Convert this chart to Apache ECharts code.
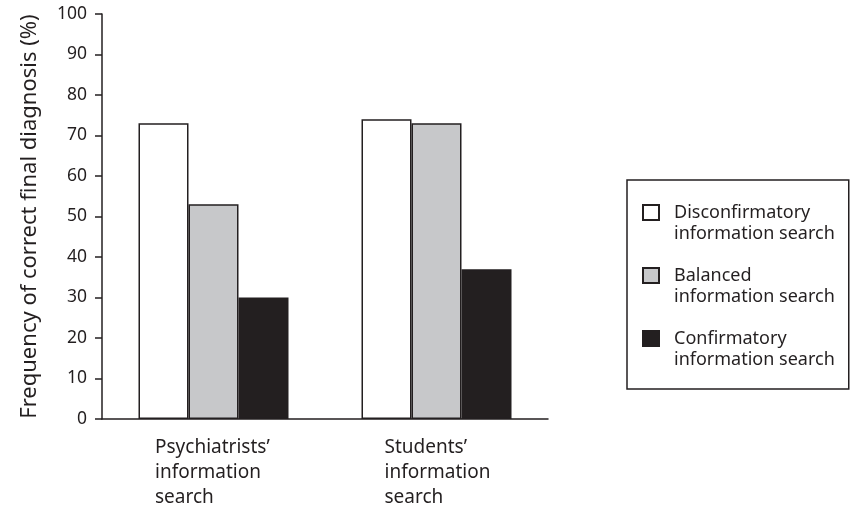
<!DOCTYPE html>
<html>
<head>
<meta charset="utf-8">
<style>
  html, body { margin: 0; padding: 0; background: #fff; }
  #chart { width: 851px; height: 510px; }
</style>
<script src="https://cdn.jsdelivr.net/npm/echarts@6/dist/echarts.min.js"></script>
</head>
<body>
<div id="chart"></div>
<script>
  // groups on the x axis
  var categories = ['Psychiatrists’ information search', 'Students’ information search']
  var seriesNames = [
    'Disconfirmatory information search',
    'Balanced information search',
    'Confirmatory information search'
  ]
  // frequency of correct final diagnosis (%)
  var disconfirmatory = [73, 74]
  var balanced = [53, 73]
  var confirmatory = [30, 37]
  var yTicks = [0, 10, 20, 30, 40, 50, 60, 70, 80, 90, 100]

  var ink = '#231f20'
  var font = 'Noto Sans'

  var chart = echarts.init(document.getElementById('chart'))

  function bar(name, data, fill) {
    return {
      name: name,
      type: 'bar',
      barWidth: 50,
      barGap: 0,
      data: data,
      itemStyle: {
        color: fill,
        borderColor: ink,
        borderWidth: 1.5
      }
    }
  }

  chart.setOption({
    animation: false,
    backgroundColor: '#fff',
    textStyle: { fontFamily: font, color: ink },
    grid: {
      left: 102,
      right: 303,
      top: 14,
      bottom: 91
    },
    legend: {
      orient: 'vertical',
      left: 627,
      top: 180,
      padding: [1, 14, 19, 15],
      itemGap: 0,
      itemWidth: 16,
      itemHeight: 15,
      icon: 'rect',
      borderColor: ink,
      borderWidth: 1.5,
      data: seriesNames,
      // empty first line so the square sits level with the first text line
      formatter: function (name) {
        return '\n' + name.replace(' information', '\ninformation')
      },
      textStyle: {
        fontFamily: font,
        fontSize: 18,
        color: ink,
        lineHeight: 21,
        padding: [0, 0, 0, 10]
      }
    },
    xAxis: {
      type: 'category',
      data: categories,
      axisLine: { lineStyle: { color: ink, width: 1.5 } },
      axisTick: { length: 8, lineStyle: { color: ink, width: 1.5 } },
      axisLabel: {
        margin: 16,
        formatter: function (value, idx) {
          var parts = value.split(' ')
          var key = idx === 0 ? 'a' : 'b'
          return parts.map(function (l) { return '{' + key + '|' + l + '}' }).join('\n')
        },
        rich: {
          a: { width: 117, align: 'left', fontSize: 19, lineHeight: 25, fontFamily: font, color: ink },
          b: { width: 104, align: 'left', fontSize: 19, lineHeight: 25, fontFamily: font, color: ink }
        }
      }
    },
    yAxis: {
      type: 'value',
      min: yTicks[0],
      max: yTicks[yTicks.length - 1],
      interval: 10,
      name: 'Frequency of correct final diagnosis (%)',
      nameLocation: 'middle',
      nameGap: 61,
      nameTextStyle: { fontFamily: font, fontSize: 22, color: ink },
      splitLine: { show: false },
      axisLine: { show: true, lineStyle: { color: ink, width: 1.5 } },
      axisTick: { show: true, length: 7, lineStyle: { color: ink, width: 1.5 } },
      axisLabel: { margin: 15, fontSize: 17.5, color: ink, fontFamily: font }
    },
    series: [
      bar(seriesNames[0], disconfirmatory, '#ffffff'),
      bar(seriesNames[1], balanced, '#c7c8ca'),
      bar(seriesNames[2], confirmatory, ink)
    ]
  })
</script>
</body>
</html>
